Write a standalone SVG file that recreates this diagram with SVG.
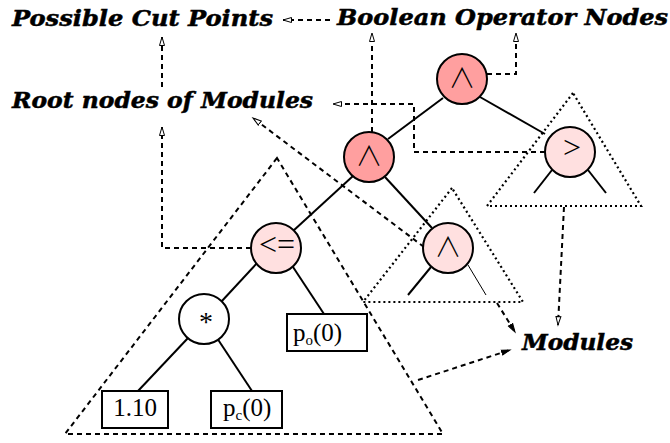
<svg xmlns="http://www.w3.org/2000/svg" width="670" height="443" viewBox="0 0 670 443">
<style>
.lbl{font-family:"DejaVu Serif",serif;font-weight:bold;font-style:italic;font-size:22px;fill:#000;stroke:#000;stroke-width:0.5}
.op{font-family:"Noto Sans CJK JP","Noto Sans CJK SC",sans-serif;font-weight:300;font-size:27px;text-anchor:middle;fill:#000}
.sym{font-family:"Liberation Serif",serif;font-size:32px;text-anchor:middle;fill:#000}
.val{font-family:"Liberation Serif",serif;font-size:25px;fill:#000}
.sub{font-size:15px}
.dark{fill:#ff9f9f;stroke:#000;stroke-width:2}
.light{fill:#ffe0e0;stroke:#000;stroke-width:2}
.white{fill:#fff;stroke:#000;stroke-width:2}
.box{fill:#fff;stroke:#000;stroke-width:2}
.edge{stroke:#000;stroke-width:2;fill:none}
.thin{stroke:#000;stroke-width:1;fill:none}
.dash{stroke:#000;stroke-width:2;fill:none;stroke-dasharray:5 4}
.dot{stroke:#000;stroke-width:2.2;fill:none;stroke-dasharray:2 3}
</style>
<defs>
<marker id="open" markerUnits="userSpaceOnUse" markerWidth="12" markerHeight="8" refX="9" refY="3.5" orient="auto">
<path d="M0.5,1 L9,3.5 L0.5,6 Z" fill="#fff" stroke="#000" stroke-width="1"/>
</marker>
<marker id="fill" markerUnits="userSpaceOnUse" markerWidth="12" markerHeight="8" refX="9" refY="3.5" orient="auto">
<path d="M0.5,1 L9,3.5 L0.5,6 Z" fill="#000" stroke="#000" stroke-width="1"/>
</marker>
</defs>

<g id="labels">
<text class="lbl" x="12" y="26" textLength="261" lengthAdjust="spacingAndGlyphs">Possible Cut Points</text>
<text class="lbl" x="337" y="25" textLength="331" lengthAdjust="spacingAndGlyphs">Boolean Operator Nodes</text>
<text class="lbl" x="12" y="108" textLength="301" lengthAdjust="spacingAndGlyphs">Root nodes of Modules</text>
<text class="lbl" x="522" y="350" textLength="111" lengthAdjust="spacingAndGlyphs">Modules</text>
</g>

<g id="modules">
<path class="dash" d="M277,158 L65,434 L443,434 Z"/>
<path class="dot" d="M452,188 L363,302 L523,302 Z"/>
<path class="dot" d="M573,93 L487,206 L641,206 Z"/>
</g>

<g id="edges">
<line class="edge" x1="443" y1="98" x2="388" y2="139"/>
<line class="edge" x1="480" y1="97" x2="545" y2="134"/>
<line class="edge" x1="552" y1="170" x2="534" y2="193"/>
<line class="edge" x1="588" y1="170" x2="606" y2="193"/>
<line class="edge" x1="385" y1="177" x2="432" y2="228"/>
<line class="edge" x1="353" y1="176" x2="293" y2="231"/>
<line class="edge" x1="431" y1="267" x2="408" y2="295"/>
<line class="thin" x1="468" y1="265" x2="486" y2="295"/>
<line class="edge" x1="258" y1="262" x2="221" y2="302"/>
<line class="edge" x1="293" y1="267" x2="324" y2="314"/>
<line class="edge" x1="188" y1="338" x2="138" y2="391"/>
<line class="edge" x1="217" y1="338" x2="252" y2="391"/>
</g>

<g id="connectors">
<path class="dash" d="M330,20 L283,20" marker-end="url(#open)"/>
<path class="dash" d="M162,87 L162,37" marker-end="url(#open)"/>
<path class="dash" d="M251,248 L162,248 L162,127" marker-end="url(#open)"/>
<path class="dash" d="M372,132 L372,33" marker-end="url(#open)"/>
<path class="dash" d="M487,74 L516,74 L516,33" marker-end="url(#open)"/>
<path class="dash" d="M545,152 L414,152 L414,104 L333,104" marker-end="url(#open)"/>
<path class="dash" d="M424,247 L253,118" marker-end="url(#open)"/>
<path class="dash" d="M564,207 L558,325" marker-end="url(#open)"/>
<path class="dash" d="M497,303 L515,332" marker-end="url(#fill)"/>
<path class="dash" d="M418,380 L510,350" marker-end="url(#fill)"/>
</g>

<g id="n-and-top">
<circle class="dark" cx="462" cy="79" r="25"/>
<text class="op" x="462" y="88">∧</text>
</g>
<g id="n-and-mid">
<circle class="dark" cx="369" cy="157" r="25"/>
<text class="op" x="369" y="166">∧</text>
</g>
<g id="n-gt">
<circle class="light" cx="570" cy="152" r="25"/>
<text class="sym" x="572" y="158">&gt;</text>
</g>
<g id="n-and-low">
<circle class="light" cx="448" cy="248" r="25"/>
<text class="op" x="448" y="257">∧</text>
</g>
<g id="n-le">
<circle class="light" cx="276" cy="248" r="25"/>
<text class="sym" x="277" y="255">&lt;=</text>
</g>
<g id="n-mul">
<circle class="white" cx="204" cy="319" r="25"/>
<text class="sym" x="206" y="331" style="font-size:28px">*</text>
</g>
<g id="b-po">
<rect class="box" x="287" y="314" width="80" height="37"/>
<text class="val" x="293" y="341">p<tspan class="sub" dy="4">o</tspan><tspan dy="-4">(0)</tspan></text>
</g>
<g id="b-110">
<rect class="box" x="102" y="391" width="66" height="37"/>
<text class="val" x="135" y="416" text-anchor="middle">1.10</text>
</g>
<g id="b-pc">
<rect class="box" x="211" y="391" width="71" height="37"/>
<text class="val" x="223" y="416">p<tspan class="sub" dy="4">c</tspan><tspan dy="-4">(0)</tspan></text>
</g>
</svg>
